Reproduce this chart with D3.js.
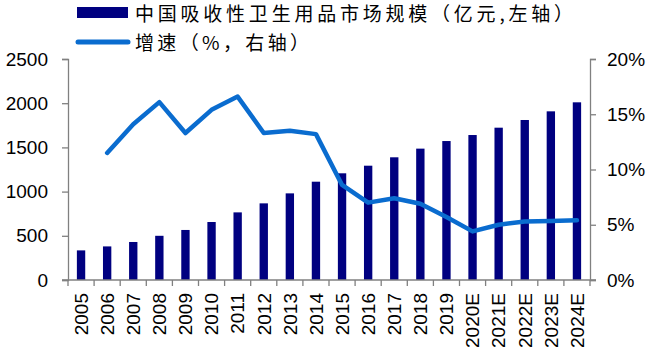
<!DOCTYPE html>
<html>
<head>
<meta charset="utf-8">
<script src="https://cdn.jsdelivr.net/npm/d3@7"></script>
<style>
  body { margin: 0; background: #fff; }
  svg { display: block; }
</style>
</head>
<body>
<div id="container"></div>
<script>
/* data */
const years = ["2005","2006","2007","2008","2009","2010","2011","2012","2013","2014",
               "2015","2016","2017","2018","2019","2020E","2021E","2022E","2023E","2024E"];
const marketSize = [335, 380, 430, 500, 566, 656, 765, 867, 980, 1112,
                    1207, 1293, 1388, 1486, 1572, 1640, 1723, 1810, 1908, 2010];
const growth = [null, 11.5, 14.1, 16.1, 13.3, 15.4, 16.6, 13.3, 13.5, 13.2,
                8.6, 7.0, 7.4, 6.9, 5.7, 4.4, 5.0, 5.3, 5.35, 5.4];
const leftTicks = [0, 500, 1000, 1500, 2000, 2500];
const rightTicks = [0, 5, 10, 15, 20];

const width = 650, height = 354;
const plotL = 68, plotR = 590, plotT = 59, plotB = 280; /* plot box */
const barColor = "#000080", lineColor = "#0a6ccf", axisColor = "#808080";
const font = "'Liberation Sans', Arial, sans-serif";
const cjk = "'Noto Sans CJK SC', sans-serif";

const svg = d3.select("#container").append("svg")
  .attr("width", width).attr("height", height);

/* SCALES */
const x = d3.scaleBand().domain(years).range([plotL, plotR]);
const yL = d3.scaleLinear().domain([0, 2500]).range([plotB, plotT]);
const yR = d3.scaleLinear().domain([0, 20]).range([plotB, plotT]);
const barW = x.step() * 0.32;

/* BARS */
svg.selectAll(".bar")
  .data(years)
  .join("rect")
  .attr("class", "bar")
  .attr("x", d => x(d) + x.bandwidth() / 2 - barW / 2)
  .attr("y", (d, i) => yL(marketSize[i]))
  .attr("width", barW)
  .attr("height", (d, i) => plotB - yL(marketSize[i]))
  .attr("fill", barColor);

/* AXES */
const styleAxis = g => {
  g.select(".domain").attr("stroke", axisColor).attr("stroke-width", 1.3);
  g.selectAll(".tick line").attr("stroke", axisColor).attr("stroke-width", 1.3);
  g.selectAll("text").attr("fill", "#000").attr("font-family", font);
};

svg.append("g")
  .attr("transform", `translate(${plotL},0)`)
  .call(d3.axisLeft(yL).tickValues(leftTicks).tickSizeOuter(0).tickSize(6).tickPadding(14)
    .tickFormat(d3.format("d")))
  .call(styleAxis)
  .call(g => g.selectAll("text").attr("font-size", 19));

svg.append("g")
  .attr("transform", `translate(${plotR},0)`)
  .call(d3.axisRight(yR).tickValues(rightTicks).tickSizeOuter(0).tickSize(6).tickPadding(11)
    .tickFormat(d => d + "%"))
  .call(styleAxis)
  .call(g => g.selectAll("text").attr("font-size", 19));

/* bottom axis: ticks between categories, labels rotated */
const xAxis = svg.append("g").attr("transform", `translate(0,${plotB})`);
xAxis.append("line")
  .attr("x1", plotL - 6).attr("x2", plotR + 6)
  .attr("stroke", axisColor).attr("stroke-width", 1.3);
xAxis.selectAll(".xtick")
  .data(d3.range(years.length + 1))
  .join("line")
  .attr("class", "xtick")
  .attr("x1", i => plotL + i * x.step()).attr("x2", i => plotL + i * x.step())
  .attr("y1", 0).attr("y2", 6)
  .attr("stroke", axisColor).attr("stroke-width", 1.3);
xAxis.selectAll(".xlab")
  .data(years)
  .join("text")
  .attr("class", "xlab")
  .attr("transform", d => `translate(${x(d) + x.bandwidth() / 2 + 6.8},13) rotate(-90)`)
  .attr("text-anchor", "end")
  .attr("font-family", font)
  .attr("font-size", 19)
  .text(d => d);

/* LINE */
const line = d3.line()
  .defined(d => d != null)
  .x((d, i) => x(years[i]) + x.bandwidth() / 2)
  .y(d => yR(d));
svg.append("path")
  .datum(growth)
  .attr("d", line)
  .attr("fill", "none")
  .attr("stroke", lineColor)
  .attr("stroke-width", 4.5)
  .attr("stroke-linejoin", "round")
  .attr("stroke-linecap", "round");

/* LEGEND */
svg.append("rect")
  .attr("x", 77).attr("y", 7).attr("width", 51).attr("height", 11)
  .attr("fill", barColor);
svg.append("text")
  .attr("x", 135).attr("y", 21)
  .attr("font-family", cjk).attr("font-size", 19)
  .attr("textLength", 438).attr("lengthAdjust", "spacing")
  .text("中国吸收性卫生用品市场规模（亿元,左轴）");
svg.append("line")
  .attr("x1", 78).attr("x2", 128).attr("y1", 42).attr("y2", 42)
  .attr("stroke", lineColor).attr("stroke-width", 5).attr("stroke-linecap", "round");
svg.append("text")
  .attr("x", 135).attr("y", 50)
  .attr("font-family", cjk).attr("font-size", 19)
  .attr("textLength", 174).attr("lengthAdjust", "spacing")
  .text("增速（%，右轴）");
</script>
</body>
</html>
